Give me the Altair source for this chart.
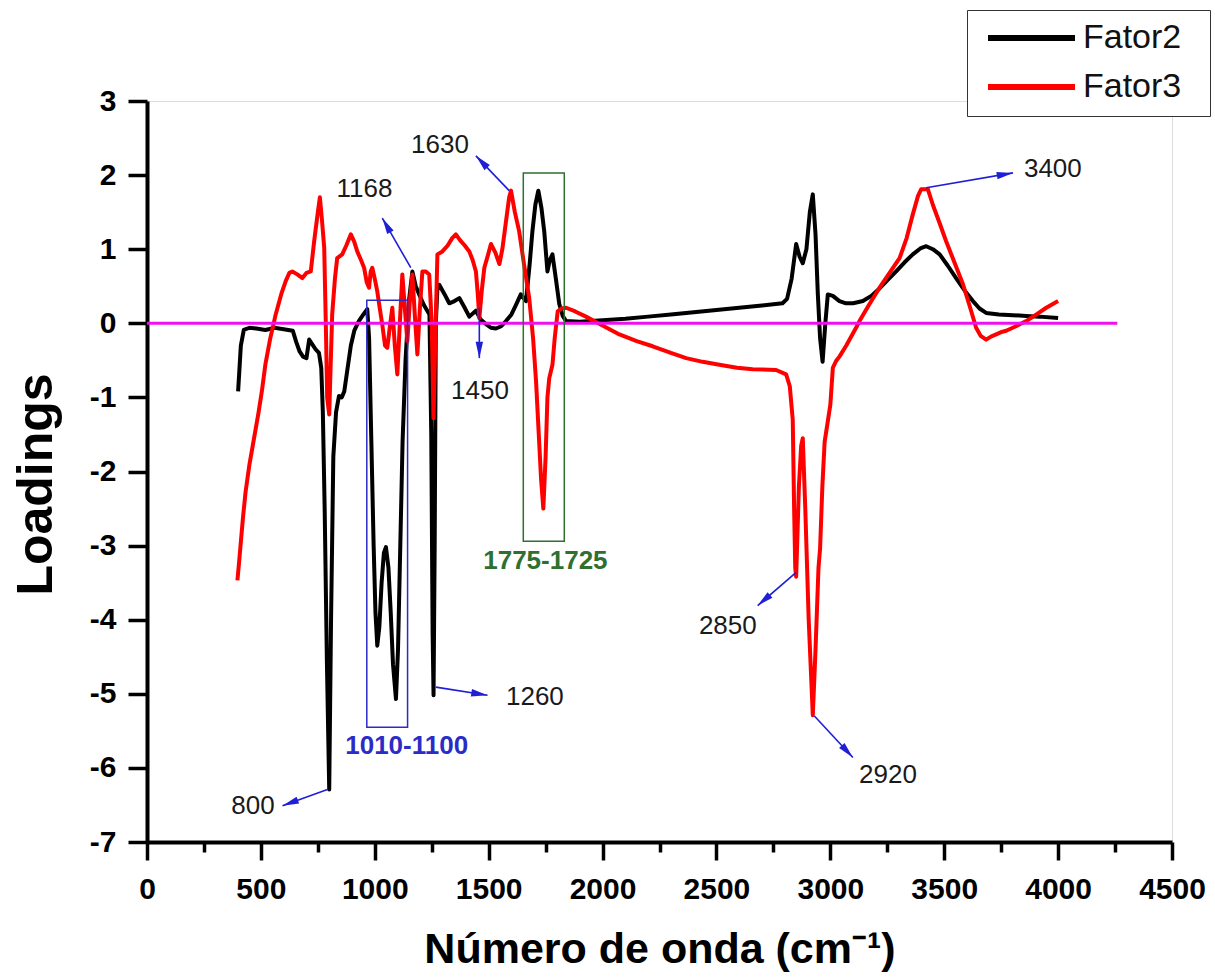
import math
import altair as alt
import pandas as pd

FONT = "Liberation Sans"

# ---------------- data ----------------
f2_x = [400,412,425,450,480,520,560,600,640,655,670,685,700,712,725,740,755,765,772,780,790,800,808,818,830,843,855,866,880,895,910,930,950,967,975,985,995,1003,1011,1020,1030,1040,1049,1060,1070,1080,1093,1102,1112,1122,1135,1150,1165,1180,1195,1215,1240,1248,1254,1258,1263,1268,1275,1283,1305,1327,1350,1371,1393,1415,1444,1465,1488,1510,1532,1555,1576,1600,1620,1641,1664,1680,1692,1705,1718,1732,1744,1758,1768,1780,1795,1810,1825,1840,1900,2000,2100,2200,2300,2400,2500,2600,2700,2790,2810,2830,2850,2865,2879,2895,2910,2923,2935,2945,2955,2966,2978,2989,3011,3040,3069,3100,3143,3180,3216,3250,3289,3325,3362,3395,3421,3450,3480,3515,3552,3590,3626,3655,3684,3740,3802,3860,3919,4000]
f2_y = [-0.92,-0.30,-0.09,-0.06,-0.07,-0.09,-0.06,-0.08,-0.10,-0.25,-0.38,-0.45,-0.47,-0.22,-0.28,-0.35,-0.40,-0.60,-1.20,-2.50,-4.60,-6.29,-4.00,-1.80,-1.20,-0.98,-1.00,-0.92,-0.62,-0.30,-0.10,0.03,0.12,0.19,-0.20,-1.60,-3.00,-3.90,-4.35,-4.10,-3.50,-3.10,-3.02,-3.30,-3.90,-4.60,-5.07,-4.40,-3.00,-1.60,-0.50,0.30,0.70,0.50,0.39,0.25,0.12,-1.50,-4.20,-5.02,-3.00,0.00,0.48,0.52,0.40,0.27,0.30,0.34,0.22,0.09,0.17,0.05,-0.01,-0.06,-0.07,-0.04,0.03,0.12,0.25,0.39,0.30,0.80,1.24,1.60,1.79,1.55,1.24,0.70,0.85,0.93,0.60,0.26,0.10,0.03,0.02,0.04,0.06,0.09,0.12,0.15,0.18,0.21,0.24,0.27,0.33,0.60,1.07,0.90,0.81,1.00,1.50,1.74,1.20,0.40,-0.20,-0.52,0.00,0.39,0.37,0.30,0.27,0.27,0.30,0.37,0.47,0.58,0.70,0.82,0.93,1.01,1.04,1.00,0.93,0.78,0.61,0.44,0.30,0.20,0.14,0.12,0.11,0.10,0.09,0.07]

f3_x = [397,405,412,422,433,450,470,490,505,520,540,565,590,609,625,638,660,682,700,719,734,750,759,768,778,785,791,800,806,813,825,835,857,875,895,910,923,940,953,965,975,982,989,1000,1011,1022,1033,1045,1055,1066,1077,1088,1099,1110,1121,1132,1143,1154,1165,1176,1187,1198,1209,1224,1239,1250,1258,1265,1275,1297,1320,1340,1356,1375,1395,1415,1430,1444,1452,1459,1470,1481,1495,1510,1530,1547,1560,1575,1590,1598,1615,1634,1655,1678,1695,1708,1720,1730,1740,1750,1758,1766,1780,1790,1803,1820,1840,1880,1927,2000,2074,2150,2220,2300,2367,2440,2513,2590,2659,2762,2806,2822,2835,2841,2846,2850,2862,2872,2879,2890,2905,2923,2935,2948,2955,2965,2975,2990,3000,3011,3025,3040,3070,3113,3128,3170,3216,3260,3304,3335,3362,3385,3399,3428,3450,3480,3508,3545,3582,3615,3640,3660,3684,3705,3728,3750,3772,3815,3860,3905,3948,4000]
f3_y = [-3.47,-3.20,-2.95,-2.60,-2.27,-1.90,-1.55,-1.20,-0.90,-0.55,-0.22,0.12,0.40,0.57,0.68,0.70,0.66,0.61,0.68,0.70,1.11,1.50,1.70,1.40,1.02,0.00,-1.00,-1.23,-0.60,0.12,0.60,0.88,0.93,1.05,1.20,1.10,0.97,0.85,0.75,0.55,0.48,0.70,0.75,0.60,0.43,0.20,-0.02,-0.30,-0.33,-0.05,0.21,-0.30,-0.69,0.00,0.66,0.20,-0.24,0.30,0.66,0.10,-0.42,0.20,0.70,0.70,0.66,0.00,-1.28,-0.30,0.93,0.97,1.05,1.15,1.20,1.12,1.05,0.97,0.85,0.70,0.40,0.07,0.45,0.75,0.90,1.07,0.95,0.80,1.00,1.35,1.70,1.79,1.50,1.24,0.80,0.34,-0.20,-0.78,-1.50,-2.10,-2.50,-1.80,-1.00,-0.74,-0.56,-0.20,0.16,0.20,0.21,0.16,0.09,-0.03,-0.15,-0.24,-0.31,-0.40,-0.47,-0.52,-0.56,-0.60,-0.62,-0.63,-0.69,-0.85,-1.30,-2.50,-3.30,-3.42,-2.20,-1.65,-1.55,-2.50,-4.00,-5.29,-4.40,-3.30,-3.04,-2.20,-1.60,-1.30,-1.10,-0.60,-0.51,-0.45,-0.30,-0.06,0.03,0.25,0.48,0.68,0.88,1.15,1.47,1.72,1.81,1.81,1.60,1.35,1.11,0.82,0.53,0.20,-0.06,-0.17,-0.22,-0.18,-0.15,-0.12,-0.10,-0.04,0.03,0.12,0.21,0.30]

series_names = ["Fator2", "Fator3"]
series_colors = ["#000000", "#ff0000"]

zero_start = [0]
zero_end = [4260]
zero_level = [0]

box_x1 = [965, 1652]
box_x2 = [1144, 1832]
box_y1 = [0.31, 2.03]
box_y2 = [-5.45, -2.94]
box_colors = ["#2b2bc8", "#2f6f2f"]

arrow_x1 = [792, 1158, 1590, 1459, 1268, 2850, 2930, 3421]
arrow_y1 = [-6.29, 0.75, 1.79, 0.21, -4.91, -3.36, -5.30, 1.83]
arrow_x2 = [595, 1033, 1444, 1459, 1495, 2681, 3099, 3802]
arrow_y2 = [-6.51, 1.42, 2.26, -0.47, -5.02, -3.81, -5.86, 2.03]

num_labels = ["800", "1168", "1630", "1450", "1260", "2850", "2920", "3400"]
num_x = [465, 955, 1286, 1462, 1703, 2550, 3253, 3977]
num_y = [-6.52, 1.81, 2.41, -0.91, -5.04, -4.08, -6.09, 2.08]

range_labels = ["1010-1100", "1775-1725"]
range_x = [1140, 1749]
range_y = [-5.71, -3.21]

x_ticks = list(range(0, 4501, 250))
y_ticks = [v / 2 for v in range(-14, 7)]

# ---------------- tables ----------------
W, H = 1025, 741
XMIN, XMAX, YMIN, YMAX = 0, 4500, -7, 3

lines = pd.concat([
    pd.DataFrame({"x": f2_x, "y": f2_y, "s": series_names[0]}),
    pd.DataFrame({"x": f3_x, "y": f3_y, "s": series_names[1]}),
])
zero_df = pd.DataFrame({"x": zero_start, "x2": zero_end, "y": zero_level})
boxes = pd.DataFrame({"x": box_x1, "x2": box_x2, "y": box_y1, "y2": box_y2, "c": box_colors})

sx = W / (XMAX - XMIN)
sy = H / (YMAX - YMIN)
angles = []
for a, b, c, d in zip(arrow_x1, arrow_y1, arrow_x2, arrow_y2):
    dxp = (c - a) * sx
    dyp = -(d - b) * sy
    angles.append(math.degrees(math.atan2(dxp, -dyp)) % 360)
arrows = pd.DataFrame({"x": arrow_x1, "y": arrow_y1, "x2": arrow_x2, "y2": arrow_y2, "ang": angles})
nums = pd.DataFrame({"t": num_labels, "x": num_x, "y": num_y})
ranges = pd.DataFrame({"t": range_labels, "x": range_x, "y": range_y, "c": box_colors})

xs = alt.Scale(domain=[XMIN, XMAX], nice=False, zero=False)
ys = alt.Scale(domain=[YMIN, YMAX], nice=False, zero=False)

x_axis = alt.Axis(
    values=x_ticks,
    labelExpr="datum.value % 500 === 0 ? '' + datum.value : ''",
    tickSize={"condition": {"test": "datum.value % 500 === 0", "value": 18}, "value": 10},
    tickWidth=3.5, tickColor="black", domainWidth=4, domainColor="black",
    labelFontSize=30, labelFontWeight="bold", labelColor="black", labelFont=FONT,
    labelPadding=14, labelOverlap=False, labelFlush=False, grid=False,
    title="Número de onda (cm⁻¹)", titleFontSize=43, titleFontWeight="bold",
    titleColor="black", titleFont=FONT, titleBaseline="alphabetic", titleY=120,
)
y_axis = alt.Axis(
    values=y_ticks,
    labelExpr="datum.value % 1 === 0 ? '' + datum.value : ''",
    tickSize={"condition": {"test": "datum.value % 1 === 0", "value": 19}, "value": 11},
    tickWidth=3.5, tickColor="black", domainWidth=4, domainColor="black",
    labelFontSize=30, labelFontWeight="bold", labelColor="black", labelFont=FONT,
    labelPadding=12, labelOverlap=False, labelFlush=False, grid=False,
    title="Loadings", titleFontSize=50, titleFontWeight="bold", titleColor="black",
    titleFont=FONT, titleAngle=270, titleBaseline="alphabetic", titleX=-96, titleY=383,
)

legend = alt.Legend(
    title=".", titleOrient="right", titleColor="white", titleFontSize=8, titlePadding=14,
    orient="none", legendX=820, legendY=-91,
    symbolType="stroke", symbolSize=7569, symbolStrokeWidth=6,
    labelFontSize=34, labelFont=FONT, labelColor="#111111",
    strokeColor="#333333", padding=12, symbolOffset=6, labelOffset=5,
    rowPadding=15, clipHeight=32, fillColor="white",
)

line_layer = alt.Chart(lines).mark_line(strokeWidth=4, strokeJoin="round").encode(
    x=alt.X("x:Q", scale=xs, axis=x_axis),
    y=alt.Y("y:Q", scale=ys, axis=y_axis),
    color=alt.Color("s:N", scale=alt.Scale(domain=series_names, range=series_colors), legend=legend),
    detail="s:N",
)

zero_layer = alt.Chart(zero_df).mark_rule(color="#ee11ee", strokeWidth=3).encode(
    x=alt.X("x:Q", scale=xs), x2="x2:Q", y=alt.Y("y:Q", scale=ys)
)

box_layer = alt.Chart(boxes).mark_rect(fillOpacity=0, strokeWidth=1.5).encode(
    x=alt.X("x:Q", scale=xs), x2="x2:Q", y=alt.Y("y:Q", scale=ys), y2="y2:Q",
    stroke=alt.Stroke("c:N", scale=None),
)

shaft_layer = alt.Chart(arrows).mark_rule(color="#1f1fd6", strokeWidth=1.6).encode(
    x=alt.X("x:Q", scale=xs), x2="x2:Q", y=alt.Y("y:Q", scale=ys), y2="y2:Q"
)

head_layer = alt.Chart(arrows).mark_point(
    shape="M0,0L0.5,2.2L-0.5,2.2Z", filled=True, size=220, color="#1f1fd6", opacity=1
).encode(
    x=alt.X("x2:Q", scale=xs), y=alt.Y("y2:Q", scale=ys), angle=alt.Angle("ang:Q", scale=None)
)

num_layer = alt.Chart(nums).mark_text(
    fontSize=26, font=FONT, color="#1a1a1a", align="center", baseline="middle"
).encode(x=alt.X("x:Q", scale=xs), y=alt.Y("y:Q", scale=ys), text="t:N")

range_layer = alt.Chart(ranges).mark_text(
    fontSize=26, font=FONT, fontWeight="bold", align="center", baseline="middle"
).encode(
    x=alt.X("x:Q", scale=xs), y=alt.Y("y:Q", scale=ys), text="t:N",
    fill=alt.Fill("c:N", scale=None),
)

chart = alt.layer(
    line_layer, zero_layer, box_layer, shaft_layer, head_layer, num_layer, range_layer
).properties(
    width=W, height=H,
    autosize=alt.AutoSizeParams(type="none"),
    padding={"left": 147, "top": 101, "right": 43, "bottom": 138},
).configure_view(stroke=None).configure(font=FONT, background="white")

chart.save("out.html", embed_options={"renderer": "svg", "actions": False})
